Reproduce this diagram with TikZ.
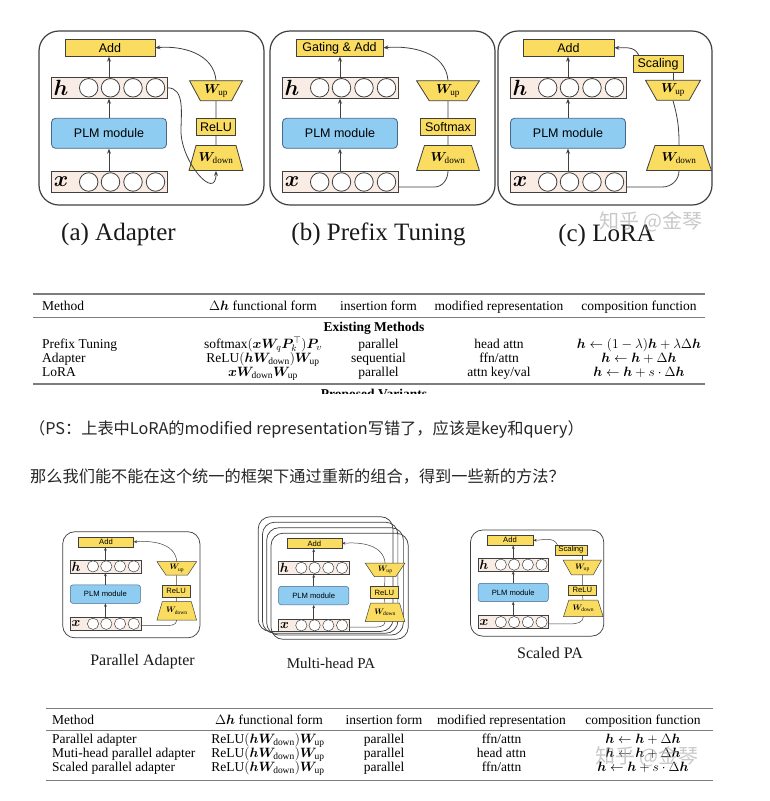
\RequirePackage{fix-cm}
\documentclass[tikz,border=0pt]{standalone}
\usepackage{amsmath}
\usepackage{fontspec}
\usepackage{bm}
\setmainfont{Liberation Serif}
\setsansfont{Liberation Sans}
\newfontfamily\cjkfont{Noto Sans CJK SC}
\usetikzlibrary{shapes.geometric, arrows.meta, positioning}
\definecolor{addcolor}{RGB}{249,220,96}
\definecolor{plmcolor}{RGB}{142,204,242}
\definecolor{plmedge}{RGB}{72,104,136}
\definecolor{rowcolor}{RGB}{248,236,228}
\definecolor{edgecolor}{RGB}{64,64,64}
\definecolor{rulecolor}{RGB}{125,125,125}
\definecolor{markcolor}{RGB}{165,165,165}
\def\pscale{1}
\tikzset{
  panelframe/.style={draw=edgecolor, line width=\pscale*1.2pt, rounded corners=\pscale*20pt},
  opbox/.style={draw=edgecolor, fill=addcolor, line width=\pscale*0.8pt, minimum height=17pt, inner sep=0pt, font=\sffamily\fontsize{12.5}{13}\selectfont},
  plmbox/.style={draw=plmedge, fill=plmcolor, line width=\pscale*0.8pt, rounded corners=\pscale*4pt, minimum width=115pt, minimum height=30pt, inner sep=0pt, font=\sffamily\fontsize{12.5}{13}\selectfont},
  rowbox/.style={draw=edgecolor, fill=rowcolor, line width=\pscale*0.8pt, minimum width=116pt, minimum height=21pt, inner sep=0pt},
  unit/.style={circle, draw=edgecolor, fill=white, line width=\pscale*0.8pt, minimum size=18.5pt, inner sep=0pt},
  rowsym/.style={inner sep=0pt, font=\fontsize{22}{22}\selectfont},
  wup/.style={trapezium, shape border rotate=180, trapezium stretches=true, draw=edgecolor, fill=addcolor, line width=\pscale*0.8pt, inner sep=0pt, minimum height=20pt, font=\fontsize{13}{13}\selectfont},
  wdown/.style={wup, shape border rotate=0, minimum height=25pt},
  link/.style={draw=edgecolor, line width=\pscale*0.8pt},
  arr/.style={link, -{Stealth[length=5pt, width=4pt]}},
  caption/.style={font=\fontsize{25}{25}\selectfont, anchor=base, text=black!90},
  subcaption/.style={font=\fontsize{16}{16}\selectfont, anchor=base, text=black!90},
  cell/.style={font=\fontsize{13.5}{14}\selectfont, anchor=base, inner sep=0pt},
  tabrule/.style={draw=rulecolor, line width=1.6pt},
  note/.style={font=\cjkfont\fontsize{16.2}{17}\selectfont, anchor=base west, inner sep=0pt, text=black!85},
  watermark/.style={font=\cjkfont\fontsize{20}{20}\selectfont, text=markcolor, opacity=0.6},
}
% frame, Add box, h and x rows, PLM module and the arrows between them
\newcommand{\panelbase}[5]{%
  \draw[panelframe] (0,0) rectangle (#5,174);
  \node[opbox, minimum width=#4pt] (#1add) at (#3,16.8) {#2};
  \node[rowbox] (#1h) at (70,56.8) {};
  \node[rowbox] (#1x) at (70,151) {};
  \node[rowsym] (#1hsym) at (22,56.8) {$\bm{h}$};
  \node[rowsym] (#1xsym) at (22,151) {$\bm{x}$};
  \foreach \cx [count=\k] in {49.7,71.5,94,116.5} {
    \node[unit] (#1h\k) at (\cx,56.8) {};
    \node[unit] (#1x\k) at (\cx,151) {};
  }
  \node[plmbox] (#1plm) at (70,102.3) {PLM module};
  \draw[arr] (#1x.north) -- (#1plm.south);
  \draw[arr] (#1plm.north) -- (#1h.south);
  \draw[arr] (#1h.north) -- (#1h.north |- #1add.south);
}
\begin{document}
\begin{tikzpicture}[x=1pt, y=-1pt]
  \useasboundingbox (0,0) rectangle (769,801);
  \fill[white] (0,0) rectangle (769,801);

  % (a) Adapter
  \begin{scope}[shift={(39,31)}]
    \panelbase{a-}{Add}{71}{90}{225}
    \node[wup, minimum width=53pt, trapezium angle=57] (a-wu) at (177,59.7) {$\bm{W}_{\mathrm{up}}$};
    \node[opbox, minimum width=39pt] (a-relu) at (177,95.8) {ReLU};
    \node[wdown, minimum width=54pt, trapezium angle=61] (a-wd) at (177,127) {$\bm{W}_{\mathrm{down}}$};
    \draw[link] (a-wu) -- (a-relu);
    \draw[link] (a-relu) -- (a-wd);
    \draw[arr] (a-wu.north) to[out=95,in=5] (a-add.east);
    \coordinate (a-bend) at (142,100);
    \draw[arr] (a-h.east) to[out=0,in=90] (a-bend) to[out=-90,in=-90,looseness=1.5] (a-wd.south);
  \end{scope}
  \node[caption] (a-cap) at (118.5,240) {(a) Adapter};

  % (b) Prefix Tuning
  \begin{scope}[shift={(270,31)}]
    \panelbase{b-}{Gating \& Add}{69.5}{87}{225}
    \node[wup, minimum width=63pt, trapezium angle=58] (b-wu) at (178,59.7) {$\bm{W}_{\mathrm{up}}$};
    \node[opbox, minimum width=55pt] (b-soft) at (178,95.8) {Softmax};
    \node[wdown, minimum width=63pt, trapezium angle=62] (b-wd) at (178,127) {$\bm{W}_{\mathrm{down}}$};
    \draw[link] (b-wu) -- (b-soft);
    \draw[link] (b-soft) -- (b-wd);
    \draw[arr] (b-wu.north) to[out=95,in=5] (b-add.east);
    \draw[link] ([yshift=-5pt]b-x.east) -- ++(36,0) to[out=0,in=-90] (b-wd.south);
  \end{scope}
  \node[caption] (b-cap) at (378.5,240) {(b) Prefix Tuning};

  % (c) LoRA
  \begin{scope}[shift={(498,31)}]
    \panelbase{c-}{Add}{70.5}{91}{214}
    \node[opbox, minimum width=50pt] (c-scale) at (160,32.8) {Scaling};
    \node[wup, minimum width=55pt, trapezium angle=57] (c-wu) at (175,59.3) {$\bm{W}_{\mathrm{up}}$};
    \node[wdown, minimum width=65pt, trapezium angle=61] (c-wd) at (181,127) {$\bm{W}_{\mathrm{down}}$};
    \draw[link] (c-wu.north) -- (c-wu.north |- c-scale.south);
    \draw[link] (c-wu.south) to[bend left=8] (c-wd.north);
    \draw[arr] ([xshift=6pt]c-scale.north west) to[out=115,in=0] (c-add.east);
    \draw[link] ([yshift=-5pt]c-x.east) -- ++(36,0) to[out=0,in=-90] (c-wd.south);
  \end{scope}
  \node[caption] (c-cap) at (606.5,241.5) {(c) LoRA};

  % existing methods table
  \draw[tabrule] (33,294) -- (705,294);
  \draw[tabrule, line width=0.9pt] (33,317) -- (705,317);
  \draw[tabrule] (33,384) -- (705,384);
  \node[cell, anchor=base west] (t-method) at (42,310) {Method};
  \foreach \cx/\txt [count=\k] in {263/{$\Delta\bm{h}$ functional form}, 378.5/{insertion form}, 499/{modified representation}, 639/{composition function}}
    \node[cell] (t-head\k) at (\cx,310) {\txt};
  \node[cell, font=\bfseries\fontsize{13.5}{14}\selectfont] (t-group) at (374,331.5) {Existing Methods};
  \foreach \ry/\m/\f/\i/\r/\c [count=\k] in {
      348/{Prefix Tuning}/{softmax$(\bm{x}\bm{W}_q\bm{P}_k^{\top})\bm{P}_v$}/{parallel}/{head attn}/{$\bm{h}\leftarrow(1-\lambda)\bm{h}+\lambda\Delta\bm{h}$},
      362/{Adapter}/{ReLU$(\bm{h}\bm{W}_{\mathrm{down}})\bm{W}_{\mathrm{up}}$}/{sequential}/{ffn/attn}/{$\bm{h}\leftarrow\bm{h}+\Delta\bm{h}$},
      376/{LoRA}/{$\bm{x}\bm{W}_{\mathrm{down}}\bm{W}_{\mathrm{up}}$}/{parallel}/{attn key/val}/{$\bm{h}\leftarrow\bm{h}+s\cdot\Delta\bm{h}$}} {
    \node[cell, anchor=base west] (t-m\k) at (42,\ry) {\m};
    \node[cell] (t-f\k) at (263,\ry) {\f};
    \node[cell] (t-i\k) at (378.5,\ry) {\i};
    \node[cell] (t-r\k) at (499,\ry) {\r};
    \node[cell] (t-c\k) at (639,\ry) {\c};
  }
  \begin{scope}
    \clip (0,385.5) rectangle (769,393);
    \node[cell, font=\bfseries\fontsize{13.5}{14}\selectfont] (t-next) at (374,398) {Proposed Variants};
  \end{scope}

  % notes
  \node[note] (note) at (29,434) {（PS：上表中LoRA的modified representation写错了，应该是key和query）};
  \node[note] (question) at (30,482) {那么我们能不能在这个统一的框架下通过重新的组合，得到一些新的方法？};

  % Parallel Adapter
  \begin{scope}[shift={(62.7,531.7)}, scale=0.61, transform shape, arr/.style={link, -{Stealth[length=3.4pt, width=2.8pt]}}]
    \def\pscale{0.61}
    \panelbase{pa-}{Add}{71}{90}{225}
    \node[wup, minimum width=65pt, minimum height=22pt, trapezium angle=52] (pa-wu) at (187,60.2) {$\bm{W}_{\mathrm{up}}$};
    \node[opbox, minimum width=46pt, minimum height=19pt] (pa-relu) at (186,97.2) {ReLU};
    \node[wdown, minimum width=65pt, minimum height=30pt, trapezium angle=60] (pa-wd) at (187,129.8) {$\bm{W}_{\mathrm{down}}$};
    \draw[link] (pa-wu) -- (pa-relu);
    \draw[link] (pa-relu) -- (pa-wd);
    \draw[arr] (pa-wu.north) to[out=95,in=5] (pa-add.east);
    \draw[link] ([yshift=-3pt]pa-x.east) -- ++(36,0) to[out=0,in=-90] (pa-wd.south);
  \end{scope}
  \node[subcaption] (pa-cap) at (142.5,665) {Parallel Adapter};

  % Multi-head PA
  \begin{scope}[shift={(271,533.2)}, scale=0.61, transform shape, arr/.style={link, -{Stealth[length=3.4pt, width=2.8pt]}}]
    \def\pscale{0.61}
    \foreach \j/\w/\hgt in {3/221/188, 2/222/182, 1/224/176}
      \draw[panelframe] (-7*\j,-9*\j) rectangle ++(\w,\hgt);
    \panelbase{mh-}{Add}{71}{90}{225}
    \node[wup, minimum width=65pt, minimum height=22pt, trapezium angle=52] (mh-wu) at (187,60.2) {$\bm{W}_{\mathrm{up}}$};
    \node[opbox, minimum width=46pt, minimum height=19pt] (mh-relu) at (186,97.2) {ReLU};
    \node[wdown, minimum width=65pt, minimum height=30pt, trapezium angle=60] (mh-wd) at (187,129.8) {$\bm{W}_{\mathrm{down}}$};
    \draw[link] (mh-wu) -- (mh-relu);
    \draw[link] (mh-relu) -- (mh-wd);
    \draw[arr] (mh-wu.north) to[out=95,in=5] (mh-add.east);
    \draw[link] ([yshift=-3pt]mh-x.east) -- ++(36,0) to[out=0,in=-90] (mh-wd.south);
  \end{scope}
  \node[subcaption, font=\fontsize{15}{15}\selectfont] (mh-cap) at (331,668.3) {Multi-head PA};

  % Scaled PA
  \begin{scope}[shift={(470.5,530)}, scale=0.61, transform shape, arr/.style={link, -{Stealth[length=3.4pt, width=2.8pt]}}]
    \def\pscale{0.61}
    \panelbase{spa-}{Add}{64.75}{76}{218.5}
    \node[opbox, minimum width=52pt, minimum height=16.5pt] (spa-scale) at (164.7,32.8) {Scaling};
    \node[wup, minimum width=63pt, minimum height=24pt, trapezium angle=55] (spa-wu) at (183.3,61.5) {$\bm{W}_{\mathrm{up}}$};
    \node[opbox, minimum width=47pt, minimum height=16.5pt] (spa-relu) at (183.3,98.3) {ReLU};
    \node[wdown, minimum width=65pt, minimum height=27pt, trapezium angle=60] (spa-wd) at (185,128.4) {$\bm{W}_{\mathrm{down}}$};
    \draw[link] (spa-wu.north) -- (spa-wu.north |- spa-scale.south);
    \draw[link] (spa-wu) -- (spa-relu);
    \draw[link] (spa-relu) -- (spa-wd);
    \draw[arr] ([xshift=4pt]spa-scale.north west) to[out=115,in=0] (spa-add.east);
    \draw[link] ([yshift=-3pt]spa-x.east) -- ++(36,0) to[out=0,in=-90] (spa-wd.south);
  \end{scope}
  \node[subcaption] (spa-cap) at (550,658.3) {Scaled PA};

  % proposed variants table
  \draw[tabrule] (46,708.5) -- (713,708.5);
  \draw[tabrule, line width=0.9pt] (46,730) -- (713,730);
  \draw[tabrule] (46,780.5) -- (713,780.5);
  \node[cell, anchor=base west] (v-method) at (52,724) {Method};
  \foreach \cx/\txt [count=\k] in {269/{$\Delta\bm{h}$ functional form}, 384/{insertion form}, 501.5/{modified representation}, 643/{composition function}}
    \node[cell] (v-head\k) at (\cx,724) {\txt};
  \foreach \ry/\m/\r/\c [count=\k] in {
      743.5/{Parallel adapter}/{ffn/attn}/{$\bm{h}\leftarrow\bm{h}+\Delta\bm{h}$},
      757.5/{Muti-head parallel adapter}/{head attn}/{$\bm{h}\leftarrow\bm{h}+\Delta\bm{h}$},
      771.5/{Scaled parallel adapter}/{ffn/attn}/{$\bm{h}\leftarrow\bm{h}+s\cdot\Delta\bm{h}$}} {
    \node[cell, anchor=base west] (v-m\k) at (52,\ry) {\m};
    \node[cell] (v-f\k) at (268,\ry) {ReLU$(\bm{h}\bm{W}_{\mathrm{down}})\bm{W}_{\mathrm{up}}$};
    \node[cell] (v-i\k) at (384,\ry) {parallel};
    \node[cell] (v-r\k) at (501.5,\ry) {\r};
    \node[cell] (v-c\k) at (643,\ry) {\c};
  }

  % watermarks
  \node[watermark] (mark-top) at (651,222) {知乎 @金琴};
  \node[watermark] (mark-bottom) at (647,757) {知乎 @金琴};
\end{tikzpicture}
\end{document}
